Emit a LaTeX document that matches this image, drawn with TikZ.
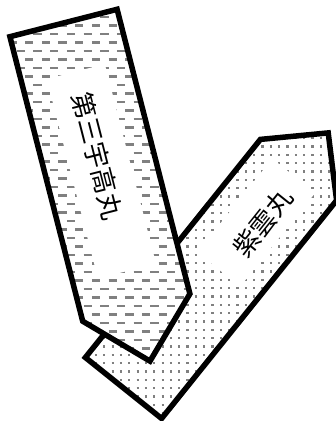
\documentclass[tikz,border=0pt]{standalone}
\usepackage{fontspec}
\newfontfamily\cjk{Noto Sans CJK JP}
\begin{document}
\begin{tikzpicture}[x=1pt,y=-1pt,
  hull/.style={draw=black,line width=5.5pt,line join=miter},
  dashrow/.style={draw=black!50,line width=2.4pt,dash pattern=on 8.3pt off 8.4pt},
  dotrow/.style={draw=black!50,line width=2.3pt,dash pattern=on 2.3pt off 6.03pt,dash phase=5.1pt},
  whitebox/.style={fill=white,draw=none,inner sep=0pt},
  shiptext/.style={font=\cjk\fontsize{26}{26}\selectfont,inner sep=0pt,text=black}]
\useasboundingbox (0,0) rectangle (336,421);
% --- ship 2 (dotted, beneath)
\coordinate (b1) at (85.4,357.5);
\coordinate (b2) at (161.6,418.5);
\coordinate (b3) at (336.6,200.4);
\coordinate (b4) at (328.2,132.9);
\coordinate (b5) at (260.4,139.4);
\fill[white] (b1) -- (b2) -- (b3) -- (b4) -- (b5) -- cycle;
\begin{scope}
  \clip (b1) -- (b2) -- (b3) -- (b4) -- (b5) -- cycle;
  \foreach \i in {0,...,51} \draw[dotrow] (0,5+\i*8.33) -- (340,5+\i*8.33);
\end{scope}
\node[whitebox,rotate=51.3,minimum width=120pt,minimum height=55pt] (m2) at (256.2,222.6) {};
\node[shiptext,rotate=51.3] (t2) at (263,223) {紫雲丸};
\draw[hull] (b1) -- (b2) -- (b3) -- (b4) -- (b5) -- cycle;
% --- ship 1 (dashed, on top)
\coordinate (a1) at (9.9,36.7);
\coordinate (a2) at (117.1,9.3);
\coordinate (a3) at (189.9,293.8);
\coordinate (a4) at (150,361.1);
\coordinate (a5) at (82.7,321.2);
\fill[white] (a1) -- (a2) -- (a3) -- (a4) -- (a5) -- cycle;
\begin{scope}
  \clip (a1) -- (a2) -- (a3) -- (a4) -- (a5) -- cycle;
  \foreach \i in {0,...,50} {
    \pgfmathsetmacro\ph{mod(\i,2)*8.35}
    \draw[dashrow,dash phase=\ph pt] (0,\i*8.5) -- (340,\i*8.5);
  }
\end{scope}
\node[whitebox,rotate=-75.6,minimum width=206pt,minimum height=60pt] (m1) at (101.4,171.3) {};
\node[shiptext,rotate=-75.6] (t1) at (97.5,155.8) {第三宇高丸};
\draw[hull] (a1) -- (a2) -- (a3) -- (a4) -- (a5) -- cycle;
\end{tikzpicture}
\end{document}
